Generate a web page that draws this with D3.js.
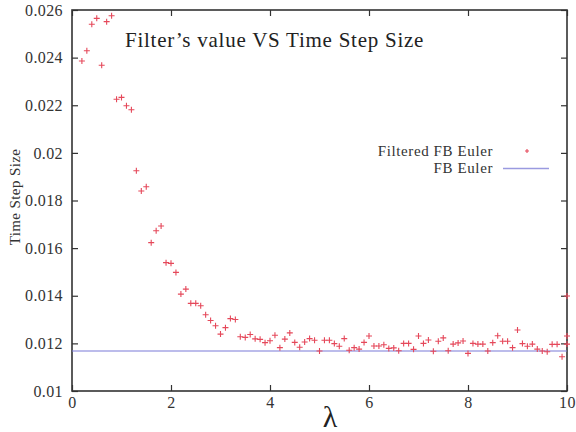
<!DOCTYPE html>
<html lang="en">
<head>
<meta charset="utf-8">
<title>Filter's value VS Time Step Size</title>
<script src="https://d3js.org/d3.v7.min.js" charset="utf-8"></script>
<style>
  body { margin: 0; background: #fff; }
  svg { font-family: "Liberation Serif", "DejaVu Serif", serif; }
  .axis path { display: none; }
  .axis line { stroke: #333; stroke-width: 1.2; }
</style>
</head>
<body>
<div id="vis-container"></div>
<script>
// lambda values (x) and filtered time step sizes (y)
var lambda = [
  0.2, 0.3, 0.4, 0.5, 0.6, 0.7, 0.8, 0.9, 1.0, 1.1, 1.2, 1.3, 1.4, 1.5, 1.6, 1.7, 1.8, 1.9, 2.0,
  2.1, 2.2, 2.3, 2.4, 2.5, 2.6, 2.7, 2.8, 2.9, 3.0, 3.1, 3.2, 3.3, 3.4, 3.5, 3.6, 3.7, 3.8, 3.9, 4.0,
  4.1, 4.2, 4.3, 4.4, 4.5, 4.6, 4.7, 4.8, 4.9, 5.0, 5.1, 5.2, 5.3, 5.4, 5.5, 5.6, 5.7, 5.8, 5.9, 6.0,
  6.1, 6.2, 6.3, 6.4, 6.5, 6.6, 6.7, 6.8, 6.9, 7.0, 7.1, 7.2, 7.3, 7.4, 7.5, 7.6, 7.7, 7.8, 7.9, 8.0,
  8.1, 8.2, 8.3, 8.4, 8.5, 8.6, 8.7, 8.8, 8.9, 9.0, 9.1, 9.2, 9.3, 9.4, 9.5, 9.6, 9.7, 9.8, 9.9, 10.0,
  10.0, 10.0
];
var filtered = [
  0.02386, 0.02429, 0.02540, 0.02565, 0.02368, 0.02551, 0.02576, 0.02225, 0.02233, 0.02198, 0.02181,
  0.01925, 0.01840, 0.01858, 0.01623, 0.01673, 0.01693, 0.01539, 0.01536, 0.01498, 0.01407, 0.01428,
  0.01368, 0.01368, 0.01358, 0.01320, 0.01296, 0.01274, 0.01239, 0.01266, 0.01304, 0.01300, 0.01228,
  0.01225, 0.01237, 0.01219, 0.01217, 0.01203, 0.01211, 0.01234, 0.01182, 0.01218, 0.01244, 0.01204,
  0.01184, 0.01206, 0.01220, 0.01213, 0.01168, 0.01213, 0.01213, 0.01199, 0.01188, 0.01220, 0.01171,
  0.01182, 0.01176, 0.01204, 0.01231, 0.01189, 0.01189, 0.01194, 0.01179, 0.01181, 0.01169, 0.01200,
  0.01200, 0.01175, 0.01231, 0.01200, 0.01214, 0.01167, 0.01209, 0.01223, 0.01169, 0.01197, 0.01202,
  0.01210, 0.01158, 0.01200, 0.01197, 0.01197, 0.01168, 0.01203, 0.01232, 0.01209, 0.01209, 0.01182,
  0.01256, 0.01199, 0.01188, 0.01197, 0.01176, 0.01168, 0.01165, 0.01196, 0.01196, 0.01144, 0.01197,
  0.01231, 0.01399
];
var fbEuler = 0.01168;   // unfiltered FB Euler step size (constant)

var xTicks = [0, 2, 4, 6, 8, 10];
var yTicks = [0.01, 0.012, 0.014, 0.016, 0.018, 0.02, 0.022, 0.024, 0.026];

var W = 576, H = 432;
var pLeft = 72, pRight = 567, pTop = 10, pBottom = 391;
var serif = '"Liberation Serif", "DejaVu Serif", serif';

var svg = d3.select("#vis-container").append("svg")
    .attr("width", W)
    .attr("height", H);

var x = d3.scaleLinear().domain([0, 10]).range([pLeft, pRight]);
var y = d3.scaleLinear().domain([0.01, 0.026]).range([pBottom, pTop]);

var fmt = function(d) { return String(+d.toFixed(3)); };

var styleTicks = function(g) {
  g.attr("font-family", serif).attr("font-size", 16);
  g.selectAll("text").attr("fill", "#333").style("letter-spacing", "0.4px");
};

// axes with inward ticks on all four sides
svg.append("g").attr("class", "axis")
    .attr("transform", "translate(0," + pBottom + ")")
    .call(d3.axisBottom(x).tickValues(xTicks).tickSizeInner(-6).tickSizeOuter(0).tickPadding(8).tickFormat(d3.format("d")))
    .call(styleTicks)
    .selectAll("text").attr("dy", "0.55em");
svg.append("g").attr("class", "axis")
    .attr("transform", "translate(0," + pTop + ")")
    .call(d3.axisTop(x).tickValues(xTicks).tickSizeInner(-6).tickSizeOuter(0).tickFormat(""));
svg.append("g").attr("class", "axis")
    .attr("transform", "translate(" + pLeft + ",0)")
    .call(d3.axisLeft(y).tickValues(yTicks).tickSizeInner(-6).tickSizeOuter(0).tickPadding(9).tickFormat(fmt))
    .call(styleTicks);
svg.append("g").attr("class", "axis")
    .attr("transform", "translate(" + pRight + ",0)")
    .call(d3.axisRight(y).tickValues(yTicks).tickSizeInner(-6).tickSizeOuter(0).tickFormat(""));

// frame
svg.append("rect")
    .attr("x", pLeft).attr("y", pTop)
    .attr("width", pRight - pLeft).attr("height", pBottom - pTop)
    .attr("fill", "none").attr("stroke", "#333").attr("stroke-width", 1.6);

// constant FB Euler line
svg.append("line")
    .attr("x1", x(0)).attr("x2", x(10))
    .attr("y1", y(fbEuler)).attr("y2", y(fbEuler))
    .attr("stroke", "#7a7ad8").attr("stroke-width", 1.1);

// filtered points as "+" markers
var plus = function(cx, cy, s) {
  return "M" + (cx - s) + "," + cy + "H" + (cx + s) + "M" + cx + "," + (cy - s) + "V" + (cy + s);
};
svg.append("g").selectAll("path")
    .data(lambda.map(function(l, i) { return { l: l, v: filtered[i] }; }))
    .enter().append("path")
    .attr("d", function(d) { return plus(x(d.l), y(d.v), 3); })
    .attr("stroke", "#e5485a")
    .attr("stroke-width", 1.1);

// title
svg.append("text")
    .attr("x", 125).attr("y", 47)
    .attr("font-size", 21)
    .attr("fill", "#222")
    .style("letter-spacing", "0.75px")
    .text("Filter\u2019s value VS Time Step Size");

// legend
var legend = svg.append("g").attr("font-size", 15).attr("fill", "#333").style("letter-spacing", "0.6px");
legend.append("text").attr("x", 493).attr("y", 156).attr("text-anchor", "end").text("Filtered FB Euler");
legend.append("path").attr("d", plus(527, 151, 2)).attr("stroke", "#e5485a").attr("stroke-width", 1.1);
legend.append("text").attr("x", 493).attr("y", 173).attr("text-anchor", "end").text("FB Euler");
legend.append("line").attr("x1", 503).attr("x2", 549).attr("y1", 168.5).attr("y2", 168.5)
    .attr("stroke", "#9a9ae0").attr("stroke-width", 1.3);

// axis titles
svg.append("text")
    .attr("transform", "translate(20,197) rotate(-90)")
    .attr("text-anchor", "middle")
    .attr("font-size", 15)
    .attr("fill", "#333")
    .style("letter-spacing", "0.4px")
    .text("Time Step Size");
svg.append("text")
    .attr("x", 330).attr("y", 427)
    .attr("text-anchor", "middle")
    .attr("font-size", 30)
    .attr("fill", "#222")
    .text("\u03bb");
</script>
</body>
</html>
